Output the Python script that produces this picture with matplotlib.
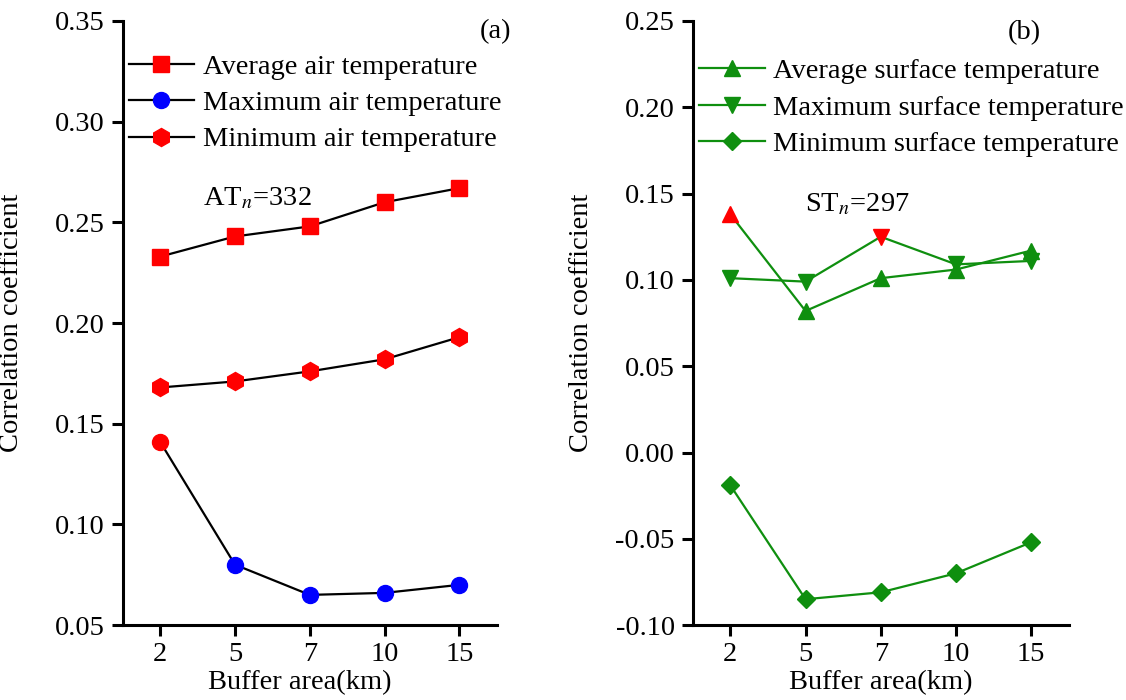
import matplotlib
matplotlib.use("Agg")
import matplotlib.pyplot as plt
from matplotlib.lines import Line2D
import numpy as np

plt.rcParams['font.family'] = ['Liberation Serif', 'DejaVu Serif']
plt.rcParams['mathtext.fontset'] = 'stix'

buffers = ['2', '5', '7', '10', '15']

# air temperature correlations (panel a)
air_avg = [0.233, 0.243, 0.248, 0.260, 0.267]
air_max = [0.141, 0.080, 0.065, 0.066, 0.070]
air_min = [0.168, 0.171, 0.176, 0.182, 0.193]
# True -> point drawn in red (significant)
air_avg_sig = [True, True, True, True, True]
air_max_sig = [True, False, False, False, False]
air_min_sig = [True, True, True, True, True]

# surface temperature correlations (panel b)
sur_avg = [0.138, 0.082, 0.101, 0.106, 0.117]
sur_max = [0.101, 0.099, 0.125, 0.109, 0.111]
sur_min = [-0.019, -0.085, -0.081, -0.070, -0.052]
sur_avg_sig = [True, False, False, False, False]
sur_max_sig = [False, False, True, False, False]
sur_min_sig = [False, False, False, False, False]

RED = '#ff0000'
BLUE = '#0000ff'
GREEN = '#0f8f0f'
FS = 20.5
LW = 1.6


def draw_series(ax, y, sig, marker, ms, line_color, base_color):
    x = np.arange(len(y))
    ax.plot(x, y, color=line_color, lw=LW, zorder=2)
    cols = [RED if s else base_color for s in sig]
    for xi, yi, c in zip(x, y, cols):
        ax.plot(xi, yi, marker=marker, ms=ms, color=c, mec=c, ls='none', zorder=3)


def style_axes(ax, ylim, yticks, fmt):
    ax.set_xlim(-0.5, len(buffers) - 0.5)
    ax.set_ylim(*ylim)
    ax.set_xticks(np.arange(len(buffers)))
    ax.set_xticklabels(buffers)
    ax.set_yticks(yticks)
    ax.set_yticklabels([fmt(v) for v in yticks])
    for s in ['top', 'right']:
        ax.spines[s].set_visible(False)
    for s in ['left', 'bottom']:
        ax.spines[s].set_linewidth(2.2)
    ax.tick_params(direction='out', length=8, width=2.2, labelsize=FS)
    ax.tick_params(axis='x', pad=4)
    ax.tick_params(axis='y', pad=5)
    ax.set_xlabel('Buffer area(km)', fontsize=FS)
    ax.set_ylabel('Correlation coefficient', fontsize=FS)


fig = plt.figure(figsize=(11.26, 7), dpi=100)
ax1 = fig.add_axes([0.109, 0.107, 0.3323, 0.863])
ax2 = fig.add_axes([0.6152, 0.107, 0.334, 0.863])

# panel a
draw_series(ax1, air_avg, air_avg_sig, 's', 11.5, 'black', BLUE)
draw_series(ax1, air_max, air_max_sig, 'o', 11.5, 'black', BLUE)
draw_series(ax1, air_min, air_min_sig, 'h', 13, 'black', BLUE)
style_axes(ax1, (0.05, 0.35), np.arange(0.05, 0.351, 0.05), lambda v: f'{v:.2f}')
ax1.yaxis.set_label_coords(-0.264, 0.5)
ax1.xaxis.set_label_coords(0.472, -0.074)

h1 = [Line2D([], [], color='black', lw=LW, marker='s', ms=11.5, mfc=RED, mec=RED),
      Line2D([], [], color='black', lw=LW, marker='o', ms=11.5, mfc=BLUE, mec=BLUE),
      Line2D([], [], color='black', lw=LW, marker='h', ms=13, mfc=RED, mec=RED)]
ax1.legend(h1, ['Average air temperature', 'Maximum air temperature', 'Minimum air temperature'],
           loc='upper left', bbox_to_anchor=(0.0155, 0.946), frameon=False, fontsize=FS,
           borderaxespad=0, borderpad=0, handlelength=2.29, handletextpad=0.31,
           labelspacing=0.37)
ax1.text(0.996, 0.982, '(a)', transform=ax1.transAxes, fontsize=FS, ha='center', va='center')
ax1.text(0.214, 0.694, r'AT$_{\mathit{n}}$=332', transform=ax1.transAxes, fontsize=FS,
         ha='left', va='baseline')

# panel b
draw_series(ax2, sur_avg, sur_avg_sig, '^', 11, GREEN, GREEN)
draw_series(ax2, sur_max, sur_max_sig, 'v', 11, GREEN, GREEN)
draw_series(ax2, sur_min, sur_min_sig, 'D', 9, GREEN, GREEN)
style_axes(ax2, (-0.10, 0.25), np.arange(-0.10, 0.251, 0.05),
           lambda v: f'{v:.2f}' if abs(v) > 1e-9 else '0.00')
ax2.yaxis.set_label_coords(-0.263, 0.5)
ax2.xaxis.set_label_coords(0.5, -0.074)

h2 = [Line2D([], [], color=GREEN, lw=LW, marker='^', ms=11, mfc=GREEN, mec=GREEN),
      Line2D([], [], color=GREEN, lw=LW, marker='v', ms=11, mfc=GREEN, mec=GREEN),
      Line2D([], [], color=GREEN, lw=LW, marker='D', ms=9, mfc=GREEN, mec=GREEN)]
ax2.legend(h2, ['Average surface temperature', 'Maximum surface temperature',
                'Minimum surface temperature'],
           loc='upper left', bbox_to_anchor=(0.016, 0.938), frameon=False, fontsize=FS,
           borderaxespad=0, borderpad=0, handlelength=2.32, handletextpad=0.3,
           labelspacing=0.37)
ax2.text(0.883, 0.98, '(b)', transform=ax2.transAxes, fontsize=FS, ha='center', va='center')
ax2.text(0.298, 0.684, r'ST$_{\mathit{n}}$=297', transform=ax2.transAxes, fontsize=FS,
         ha='left', va='baseline')

fig.savefig('out.png', dpi=100)
